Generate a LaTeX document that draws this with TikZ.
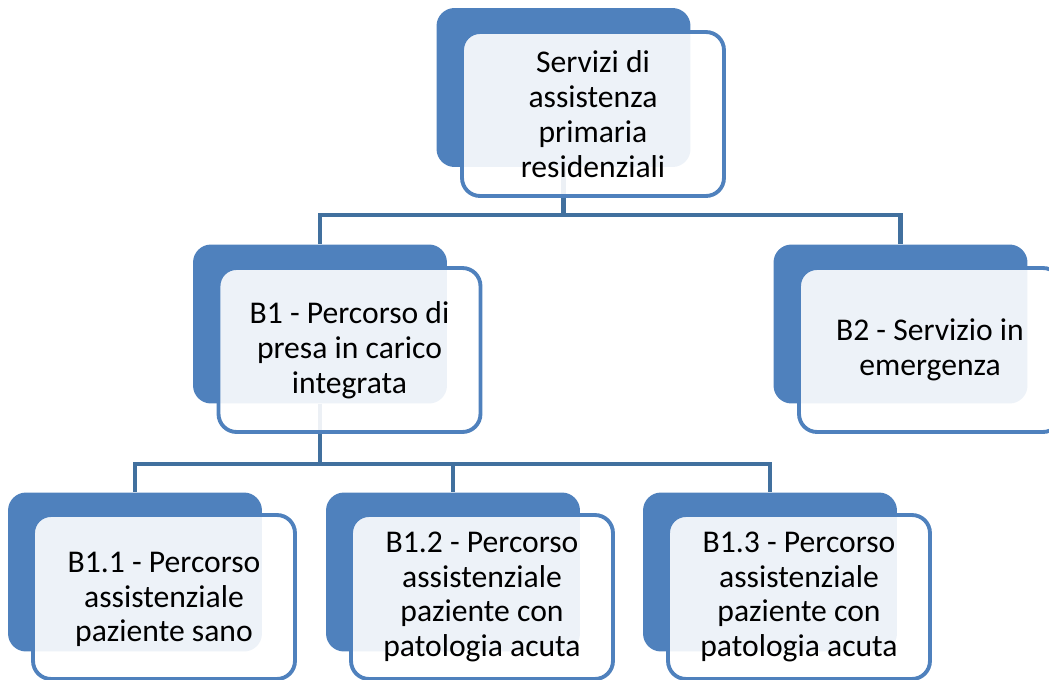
\documentclass[tikz,border=0pt]{standalone}
\usepackage{fontspec}
\setmainfont{Carlito}
\usepackage{xcolor}
\usetikzlibrary{positioning, backgrounds}
\definecolor{boxblue}{HTML}{4F81BD}
\definecolor{linkblue}{HTML}{41709E}
\tikzset{
    backbox/.style={rectangle, rounded corners=0.36cm, minimum width=5.08cm, minimum height=3.18cm,
        inner sep=0pt, fill=boxblue},
    frontbox/.style={rectangle, rounded corners=0.36cm, minimum width=5.24cm, minimum height=3.28cm,
        inner sep=0pt, draw=boxblue, line width=2.2pt, fill=white, fill opacity=0.9, text opacity=1,
        align=center, font=\fontsize{18}{19.8}\selectfont},
    link/.style={draw=linkblue, line width=2.5pt},
}

\begin{document}
\begin{tikzpicture}[x=0.02cm, y=-0.02cm]
    \useasboundingbox (0,0) rectangle (1049,680);

    \coordinate (busA) at (0,215);
    \coordinate (busB) at (0,464);

    % livello 0
    \node[backbox] (topback) at (563.5,87.5) {};
    \node[frontbox] (top) at ([shift={(29.5,26.5)}]topback.center) {Servizi di\\assistenza\\primaria\\residenziali};

    % livello 1
    \node[backbox] (b1back) at (320,324) {};
    \node[frontbox] (b1) at ([shift={(29.5,26)}]b1back.center) {B1 - Percorso di\\presa in carico\\integrata};
    \node[backbox] (b2back) at (900.5,324) {};
    \node[frontbox] (b2) at ([shift={(29.5,26)}]b2back.center) {B2 - Servizio in\\emergenza};

    % livello 2
    \node[backbox] (b11back) at (135,572) {};
    \node[frontbox, text depth=-8pt] (b11) at ([shift={(29,25)}]b11back.center) {B1.1 - Percorso\\assistenziale\\paziente sano};
    \node[backbox] (b12back) at (453,572) {};
    \node[frontbox] (b12) at ([shift={(29,25)}]b12back.center) {B1.2 - Percorso\\assistenziale\\paziente con\\patologia acuta};
    \node[backbox] (b13back) at (770,572) {};
    \node[frontbox] (b13) at ([shift={(29,25)}]b13back.center) {B1.3 - Percorso\\assistenziale\\paziente con\\patologia acuta};

    \begin{scope}[on background layer]
        \draw[link] (topback.south) -- (topback.south |- busA) -| (b1back.north);
        \draw[link] (topback.south) -- (topback.south |- busA) -| (b2back.north);
        \draw[link] (b1back.south) -- (b1back.south |- busB) -| (b11back.north);
        \draw[link] (b1back.south) -- (b1back.south |- busB) -| (b12back.north);
        \draw[link] (b1back.south) -- (b1back.south |- busB) -| (b13back.north);
    \end{scope}
\end{tikzpicture}
\end{document}
